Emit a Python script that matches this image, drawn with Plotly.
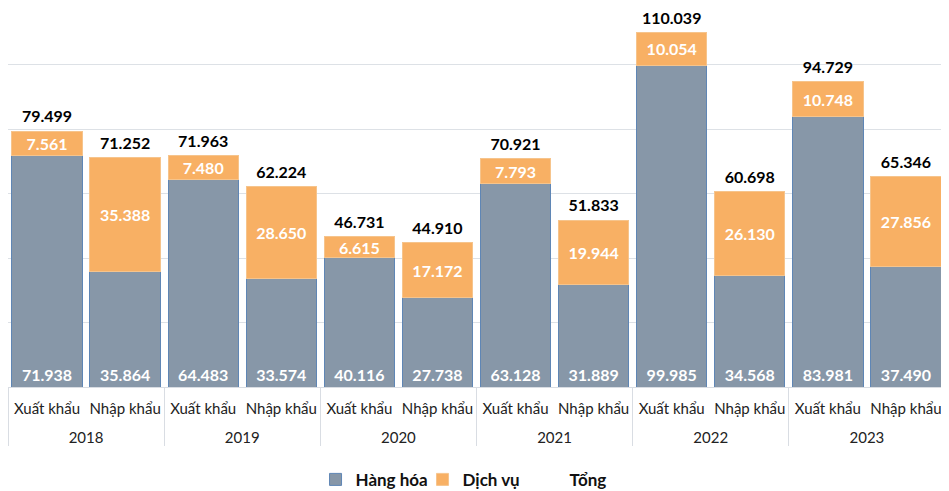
import plotly.graph_objects as go

years = ["2018", "2018", "2019", "2019", "2020", "2020",
         "2021", "2021", "2022", "2022", "2023", "2023"]
flows = ["Xuất khẩu", "Nhập khẩu"] * 6

hang_hoa = [71.938, 35.864, 64.483, 33.574, 40.116, 27.738,
            63.128, 31.889, 99.985, 34.568, 83.981, 37.490]
dich_vu = [7.561, 35.388, 7.480, 28.650, 6.615, 17.172,
           7.793, 19.944, 10.054, 26.130, 10.748, 27.856]
tong = [79.499, 71.252, 71.963, 62.224, 46.731, 44.910,
        70.921, 51.833, 110.039, 60.698, 94.729, 65.346]

GRAY = "#8797a8"
ORANGE = "#f8b064"


def fmt(v):
    return f"{v:.3f}"


# extra blank line under the first label row pushes the year row down
flow_labels = [f + "<br><span style='font-size:1px'> </span>" for f in flows]
x = [years, flow_labels]

fig = go.Figure()

fig.add_trace(
    go.Bar(
        x=x,
        y=hang_hoa,
        name="Hàng hóa",
        marker=dict(color=GRAY, line=dict(color="#5f86b5", width=1)),
        text=[fmt(v) for v in hang_hoa],
        textposition="inside",
        insidetextanchor="start",
        textfont=dict(color="white", size=16, family="Lato", weight="bold"),
        constraintext="none",
    )
)

fig.add_trace(
    go.Bar(
        x=x,
        y=dich_vu,
        name="Dịch vụ",
        marker=dict(color=ORANGE, line=dict(color="#f6c48c", width=1)),
        text=[fmt(v) for v in dich_vu],
        textposition="inside",
        insidetextanchor="middle",
        textfont=dict(color="white", size=16, family="Lato", weight="bold"),
        constraintext="none",
    )
)

fig.add_trace(
    go.Scatter(
        x=x,
        y=tong,
        name="Tổng",
        mode="lines+markers+text",
        line=dict(color="rgba(0,0,0,0)"),
        marker=dict(size=6, opacity=0),
        text=[fmt(v) for v in tong],
        textposition="top center",
        textfont=dict(color="black", size=16, family="Lato", weight="bold"),
        cliponaxis=False,
    )
)

fig.update_layout(
    width=949,
    height=491,
    barmode="stack",
    bargap=0.1,
    plot_bgcolor="white",
    paper_bgcolor="white",
    margin=dict(l=0, r=12, t=0, b=112, autoexpand=False),
    font=dict(family="Lato", size=15, color="#222222"),
    legend=dict(
        orientation="h",
        x=0.4995,
        xanchor="center",
        y=-0.245,
        yanchor="middle",
        font=dict(size=17, family="Lato", weight="bold", color="#111111"),
        itemwidth=30,
        entrywidth=62,
        traceorder="normal",
    ),
    showlegend=True,
)

fig.update_xaxes(
    type="multicategory",
    range=[-0.5, 11.5],
    autorange=False,
    automargin=False,
    tickangle=0,
    showline=True,
    linecolor="#d9dde3",
    showdividers=True,
    dividercolor="#d9dde3",
    dividerwidth=1,
    ticklabelstandoff=8,
    tickfont=dict(size=15, family="Lato", color="#222222"),
    showgrid=False,
)

fig.update_yaxes(
    range=[0, 117.7],
    dtick=20,
    automargin=False,
    showticklabels=False,
    showgrid=True,
    gridcolor="#dde1e6",
    gridwidth=1,
    zeroline=False,
)

fig.write_html("out.html")
